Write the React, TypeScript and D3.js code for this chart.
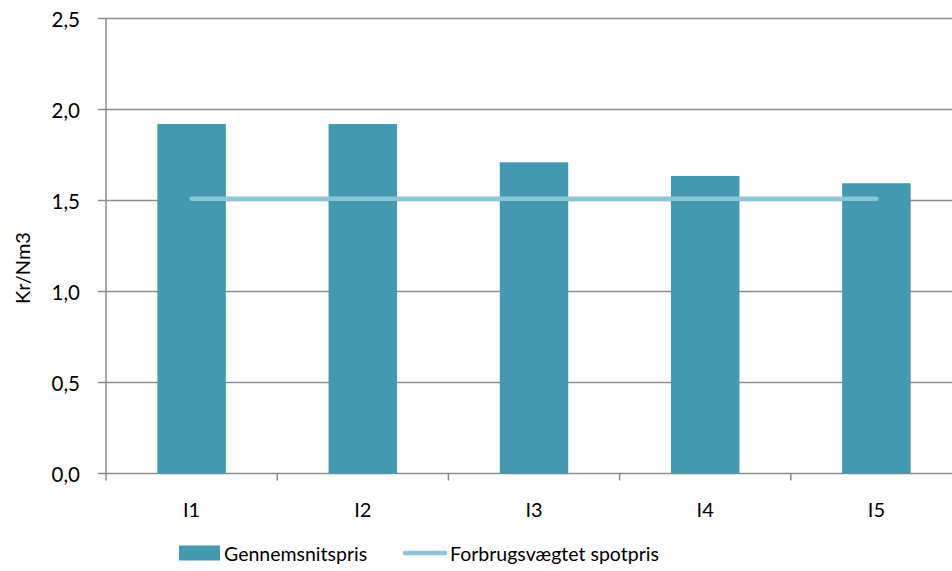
import React from "react";
import * as d3 from "d3";

const categories = ["I1", "I2", "I3", "I4", "I5"];
const avgPrice = [1.92, 1.92, 1.71, 1.635, 1.595];
const spotPrice = [1.51, 1.51, 1.51, 1.51, 1.51];
const yTicks = [0, 0.5, 1.0, 1.5, 2.0, 2.5];

const width = 952;
const height = 571;
const margin = { top: 18.5, left: 106, bottom: 473.5 };
const plotRight = 962;

const barColor = "#4399b0";
const lineColor = "#8dc3d6";
const gridColor = "#8c8c8c";
const font = "Lato, 'Open Sans', sans-serif";

const App: React.FC = () => {
  const x = d3.scaleBand().domain(categories).range([margin.left, plotRight]).paddingInner(0.6).paddingOuter(0.3);
  const xOuter = d3.scaleBand().domain(categories).range([margin.left, plotRight]);
  const y = d3.scaleLinear().domain([0, 2.5]).range([margin.bottom, margin.top]);

  const line = d3
    .line<number>()
    .x((_, i) => (xOuter(categories[i]) || 0) + xOuter.bandwidth() / 2)
    .y((d) => y(d));

  const fmt = (v: number) => v.toFixed(1).replace(".", ",");

  return (
    <svg width={width} height={height} style={{ position: "absolute", left: 0, top: 0 }}>
      <rect width={width} height={height} fill="white" />
      {/* gridlines */}
      {yTicks.map((t) => (
        <g key={t}>
          <line x1={margin.left - 8} x2={width} y1={y(t)} y2={y(t)} stroke={gridColor} strokeWidth={1.5} />
          <text x={80} y={y(t)} textAnchor="end" dominantBaseline="central" fontSize={20.5} fontFamily={font} fill="#000">
            {fmt(t)}
          </text>
        </g>
      ))}
      {/* y axis */}
      <line x1={margin.left} x2={margin.left} y1={margin.top} y2={margin.bottom} stroke={gridColor} strokeWidth={1.5} />
      {/* x ticks */}
      {categories.map((c) => (
        <line
          key={c}
          x1={xOuter(c)!}
          x2={xOuter(c)!}
          y1={margin.bottom}
          y2={margin.bottom + 7}
          stroke={gridColor}
          strokeWidth={1.5}
        />
      ))}
      {/* bars */}
      {categories.map((c, i) => (
        <rect key={c} x={x(c)!} y={y(avgPrice[i])} width={x.bandwidth()} height={y(0) - y(avgPrice[i])} fill={barColor} />
      ))}
      {/* line */}
      <path d={line(spotPrice) || ""} fill="none" stroke={lineColor} strokeWidth={4.5} strokeLinecap="round" />
      {/* category labels */}
      {categories.map((c) => (
        <text
          key={c}
          x={(xOuter(c) || 0) + xOuter.bandwidth() / 2}
          y={509}
          textAnchor="middle"
          dominantBaseline="central"
          fontSize={20}
          fontFamily={font}
        >
          {c}
        </text>
      ))}
      {/* y title */}
      <text
        transform="translate(22,268) rotate(-90)"
        textAnchor="middle"
        dominantBaseline="central"
        fontSize={20}
        fontFamily={font}
      >
        Kr/Nm3
      </text>
      {/* legend */}
      <rect x={179} y={545.5} width={41} height={15} fill={barColor} />
      <text x={224} y={553} dominantBaseline="central" fontSize={19.5} fontFamily={font}>
        Gennemsnitspris
      </text>
      <line x1={405} x2={445} y1={553} y2={553} stroke={lineColor} strokeWidth={4.5} strokeLinecap="round" />
      <text x={450} y={553} dominantBaseline="central" fontSize={19.5} fontFamily={font}>
        Forbrugsvægtet spotpris
      </text>
    </svg>
  );
};

export default App;
